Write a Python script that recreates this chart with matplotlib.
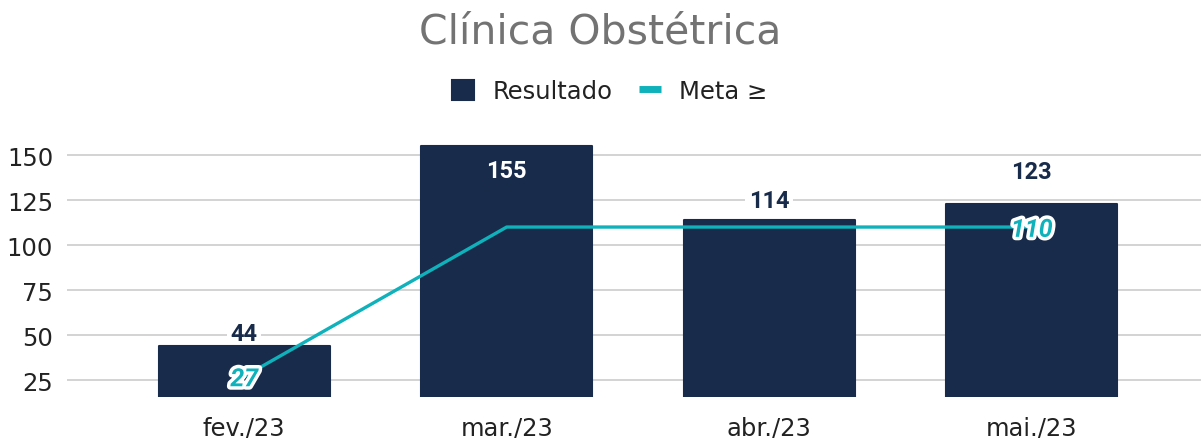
import numpy as np
import matplotlib.pyplot as plt
import matplotlib.patheffects as pe

meses = ["fev./23", "mar./23", "abr./23", "mai./23"]
resultado = [44, 155, 114, 123]
meta = [27, 110, 110, 110]

cor_barra = "#182b4a"
cor_meta = "#0fb1bb"

fig = plt.figure(figsize=(12.01, 4.39), dpi=100)
ax = fig.add_axes([0.0558, 0.0934, 0.9442, 0.5922])

x = np.arange(len(meses))
bars = ax.bar(x, resultado, width=0.65, color=cor_barra, edgecolor=cor_barra,
              linewidth=1.5, joinstyle="round", zorder=2)
ax.plot(x, meta, color=cor_meta, linewidth=2.4, zorder=3, solid_capstyle="butt")

ax.set_xlim(-0.675, 3.645)
ax.set_ylim(15.6, 160)
ax.set_yticks([25, 50, 75, 100, 125, 150])
ax.set_xticks(x)
ax.set_xticklabels(meses)
ax.tick_params(axis="y", length=0, pad=10, labelsize=17.5, labelcolor="#222222")
ax.tick_params(axis="x", length=0, pad=13, labelsize=17.5, labelcolor="#222222")
ax.grid(axis="y", color="#d3d3d3", linewidth=1.4, zorder=0)
ax.set_axisbelow(True)
for s in ax.spines.values():
    s.set_visible(False)

# rotulos das barras (deslocamento em pixels acima do topo)
desloc = [12, -24, 19, 32]
for i, v in enumerate(resultado):
    dentro = desloc[i] < 0
    ax.annotate(str(v), (i, v), xytext=(0, desloc[i] * 0.72), textcoords="offset points",
                ha="center", va="center", color="white" if dentro else cor_barra,
                fontsize=17, fontweight="bold", family="Roboto",
                zorder=5 if dentro else 1.5,
                bbox=None if dentro else dict(boxstyle="square,pad=0.15", fc="white", ec="none"))

# rotulos da meta (primeiro e ultimo)
for i in [0, len(meta) - 1]:
    ax.annotate(str(meta[i]), (i, meta[i]), xytext=(0, -2), textcoords="offset points",
                ha="center", va="center", color=cor_meta,
                fontsize=18, fontweight="bold", fontstyle="italic", family="Roboto", zorder=6,
                path_effects=[pe.withStroke(linewidth=5, foreground="white")])

fig.text(0.5, 0.925, "Clínica Obstétrica", ha="center", va="center",
         fontsize=29.5, color="#737373")

leg = fig.legend([bars, ax.lines[0]], ["Resultado", "Meta ≥"], loc="center",
                 bbox_to_anchor=(0.508, 0.79), ncol=2, frameon=False, fontsize=17.5,
                 handlelength=0.9, handleheight=0.9, columnspacing=1.1,
                 handletextpad=0.75)
for t in leg.get_texts():
    t.set_color("#222222")
leg.legend_handles[1].set_linewidth(5)

plt.savefig("out.png", dpi=100)
